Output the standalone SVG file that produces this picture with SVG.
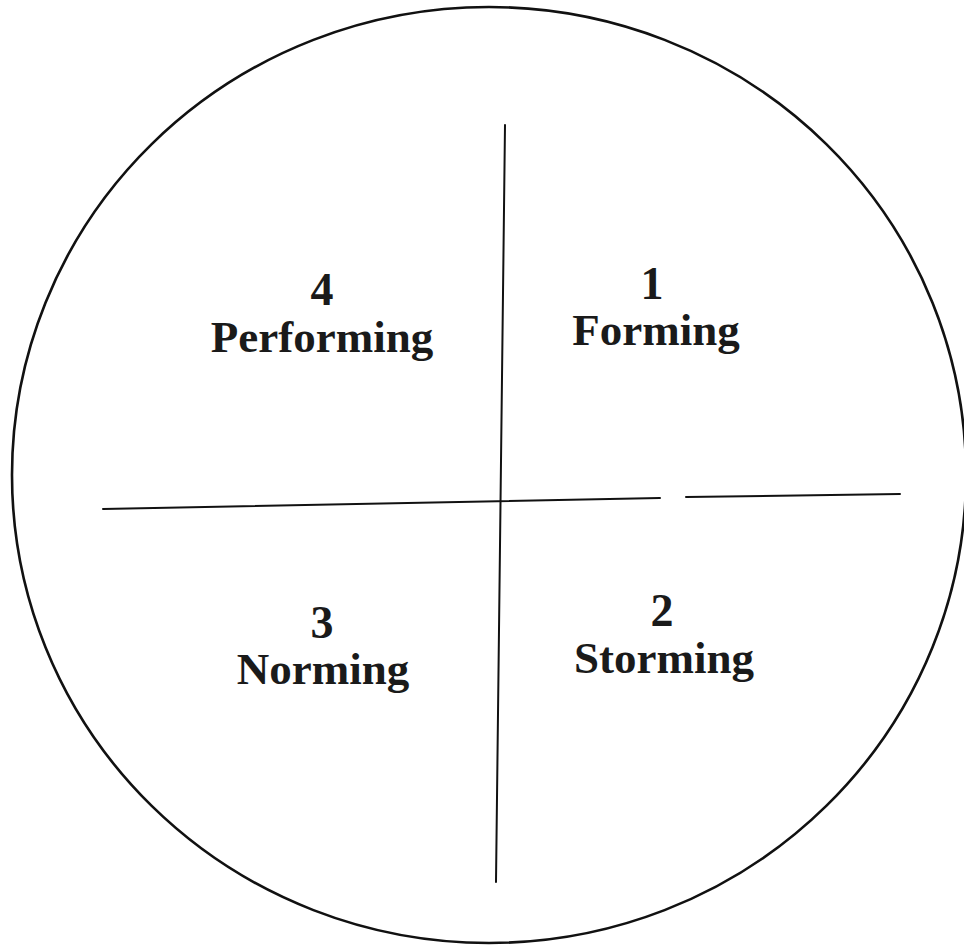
<svg xmlns="http://www.w3.org/2000/svg" width="964" height="945" viewBox="0 0 964 945">
  <style>
    .lbl { font-family: "Liberation Serif", "Times New Roman", serif; font-weight: bold; font-size: 45px; fill: #1a1a1a; text-anchor: middle; }
    .num { font-size: 46px; }
    .edge { stroke: #111; stroke-width: 2; fill: none; stroke-linecap: round; }
    .ring { stroke: #111; stroke-width: 2.6; fill: none; }
  </style>
  <rect width="964" height="945" fill="#ffffff"/>
  <g id="circle">
    <ellipse class="ring" cx="489" cy="475" rx="477" ry="468"/>
  </g>
  <g id="connectors">
    <line class="edge" x1="505" y1="125" x2="496" y2="882"/>
    <line class="edge" x1="103" y1="509" x2="660" y2="498"/>
    <line class="edge" x1="686" y1="497" x2="900" y2="494"/>
  </g>
  <g id="node-forming">
    <text class="lbl"><tspan class="num" x="652" y="299">1</tspan><tspan x="656" y="345">Forming</tspan></text>
  </g>
  <g id="node-storming">
    <text class="lbl"><tspan class="num" x="662" y="626">2</tspan><tspan x="664" y="673">Storming</tspan></text>
  </g>
  <g id="node-norming">
    <text class="lbl"><tspan class="num" x="322" y="638">3</tspan><tspan x="323" y="684">Norming</tspan></text>
  </g>
  <g id="node-performing">
    <text class="lbl"><tspan class="num" x="322" y="305">4</tspan><tspan x="322" y="352">Performing</tspan></text>
  </g>
</svg>
